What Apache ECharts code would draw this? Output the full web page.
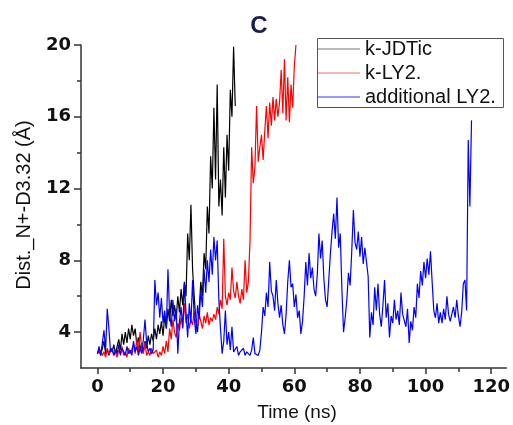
<!DOCTYPE html>
<html>
<head>
<meta charset="utf-8">
<script src="https://cdn.jsdelivr.net/npm/echarts@6/dist/echarts.min.js"></script>
<style>html,body{margin:0;padding:0;background:#fff}#c{width:513px;height:425px}</style>
</head>
<body>
<div id="c"></div>
<script>
// sampling step of the traces (ns)
const STEP = 0.5;
const seriesNames = ['k-JDTic', 'k-LY2.', 'additional LY2.'];
const xTicks = [0, 20, 40, 60, 80, 100, 120];
const xMinorTicks = [10, 30, 50, 70, 90, 110];
const yTicks = [4, 8, 12, 16, 20];
const yMinorTicks = [6, 10, 14, 18];

// k-JDTic, t = 0 .. 42 ns
const jdtic = [
  2.8, 3.0, 2.7, 3.1, 3.5, 2.8, 3.0, 2.7, 3.1, 2.9,
  3.3, 2.8, 3.2, 3.6, 3.0, 3.9, 3.3, 4.0, 3.4, 4.2,
  3.6, 4.4, 3.8, 4.2, 3.3, 3.7, 3.0, 3.4, 2.9, 3.5,
  3.1, 3.8, 3.3, 3.9, 3.5, 4.2, 3.6, 4.4, 3.9, 4.6,
  3.8, 4.9, 4.2, 5.3, 4.6, 5.8, 4.9, 5.5, 4.7, 6.0,
  5.1, 6.4, 5.5, 6.8, 6.0, 9.5, 8.0, 11.1, 7.5, 6.0,
  4.6, 4.0, 5.2, 6.8, 6.0, 8.4, 7.5, 11.0, 9.5, 13.8,
  12.0, 16.5, 12.5, 17.8, 11.0, 12.5, 10.5, 14.3, 11.5, 15.0,
  13.0, 17.5, 16.0, 19.9, 16.6
];

// k-LY2., t = 0 .. 60.5 ns
const ly2 = [
  2.8, 2.7, 3.0, 2.7, 2.9, 2.6, 3.1, 2.8, 2.7, 3.0, 2.7,
  2.9, 2.6, 3.0, 2.8, 3.2, 2.7, 2.9, 2.6, 3.1, 2.8,
  2.7, 3.3, 2.8, 3.6, 2.9, 4.0, 3.1, 2.8, 3.4, 2.7,
  2.9, 2.7, 3.1, 2.8, 2.7, 3.0, 2.6, 2.9, 2.7, 3.2,
  2.8, 3.5, 2.9, 4.2, 3.6, 4.7, 4.0, 3.7, 4.5, 4.1,
  4.8, 4.3, 5.6, 4.5, 5.0, 4.2, 4.7, 4.4, 5.2, 4.6,
  4.3, 5.0, 4.6, 4.2, 4.9, 4.5, 5.1, 4.4, 4.8, 4.6,
  5.0, 4.7, 5.4, 5.0, 5.8, 5.3, 9.2, 6.0, 5.5, 6.2,
  5.8, 7.6, 6.3, 5.9, 6.8, 6.0, 5.6, 6.4, 5.8, 8.0,
  6.2, 6.8, 9.1, 14.3, 12.3, 13.2, 16.6, 13.5, 14.3, 15.0,
  13.6, 15.2, 16.6, 14.8, 16.8, 15.5, 17.1, 15.8, 17.0, 16.0,
  16.8, 18.6, 16.2, 19.2, 15.8, 18.2, 15.7, 17.8, 16.5, 18.8,
  20.0
];

// additional LY2., t = 0 .. 114 ns
const addLy2 = [
  2.8, 3.2, 2.7, 3.4, 4.1, 3.0, 5.3, 4.2, 2.9, 3.1,
  2.7, 3.0, 2.8, 3.3, 2.7, 3.1, 2.9, 2.7, 3.2, 2.8,
  3.0, 2.7, 3.5, 2.9, 3.2, 2.7, 3.1, 2.8, 3.6, 4.7,
  3.4, 2.9, 3.1, 2.8, 3.0, 6.9, 5.5, 6.2, 4.8, 5.9,
  4.5, 5.2, 4.2, 7.5, 5.0, 4.3, 5.8, 4.6, 5.3, 2.8,
  4.6, 5.4, 4.2, 6.7, 5.1, 3.7, 5.6, 4.5, 6.9, 4.8,
  3.9, 5.5, 4.7, 6.3, 5.4, 7.5, 6.2, 8.0, 6.8, 8.6,
  7.2, 9.3, 8.0, 9.1, 5.8, 4.2, 2.8, 3.5, 5.2, 3.3,
  4.0, 3.0, 4.3, 2.9, 2.8, 3.2, 2.7, 2.9, 2.8, 3.1,
  2.7, 2.9, 2.8, 2.7, 3.0, 3.7, 2.8, 2.9, 2.7, 3.0,
  4.0, 5.4, 4.9, 6.2, 5.4, 7.9, 6.3, 6.0, 5.2, 6.9,
  5.6, 4.8, 5.5, 4.4, 3.9, 5.0, 6.8, 8.0, 6.5, 6.7,
  5.4, 6.1, 4.8, 5.2, 3.9, 4.6, 6.0, 7.9, 6.6, 8.4,
  7.0, 7.6, 6.4, 6.0, 7.2, 9.5, 8.1, 9.1, 7.0, 5.8,
  5.4, 6.9, 8.4, 9.6, 10.6, 9.2, 11.5, 8.7, 9.5, 6.4,
  4.0, 4.8, 5.8, 7.3, 6.6, 8.5, 10.8, 9.0, 8.6, 9.6,
  8.2, 9.3, 7.8, 8.7, 7.9, 7.1, 3.7, 5.1, 4.4, 6.5,
  5.2, 6.7, 5.0, 4.3, 5.5, 6.9, 4.8, 5.6, 3.7, 4.9,
  4.5, 5.8, 4.7, 5.2, 4.4, 6.2, 5.0, 4.9, 4.3, 5.3,
  3.4, 4.6, 4.1, 5.4, 4.8, 6.7, 5.9, 7.4, 6.6, 7.9,
  7.0, 8.1, 7.2, 8.5, 6.8, 5.2, 4.8, 5.6, 4.5, 5.1,
  4.5, 5.3, 4.7, 6.0, 5.0, 4.6, 4.5, 5.4, 4.8, 5.8,
  4.9, 4.3, 5.1, 6.7, 6.9, 5.2, 14.7, 11.0, 15.8
];

const colors = ['#000000', '#ff0000', '#0000ff'];
const legendColors = ['#777777', '#ff6666', '#3333ff'];
const toPairs = arr => arr.map((v, i) => [i * STEP, v]);
const allValues = [jdtic, ly2, addLy2];

const chart = echarts.init(document.getElementById('c'), null, {renderer: 'canvas'});
const axisLineStyle = {color: '#333', width: 1.5};
const labelFont = {fontFamily: 'DejaVu Sans', fontWeight: 'bold', fontSize: 18, color: '#111'};

chart.setOption({
  animation: false,
  backgroundColor: '#fff',
  grid: {left: 81, top: 45, width: 432, height: 323, containLabel: false},
  xAxis: [
    {type: 'value', min: -5, max: 124.6, position: 'bottom',
     axisLine: {show: true, onZero: false, lineStyle: axisLineStyle},
     axisTick: {show: true, inside: false, length: 6, lineStyle: axisLineStyle, customValues: xTicks},
     axisLabel: {show: true, margin: 10, customValues: xTicks, ...labelFont},
     splitLine: {show: false}},
    {type: 'value', min: -5, max: 124.6, position: 'bottom',
     axisLine: {show: false, onZero: false},
     axisTick: {show: true, inside: false, length: 4, lineStyle: axisLineStyle, customValues: xMinorTicks},
     axisLabel: {show: false}, splitLine: {show: false}}
  ],
  yAxis: [
    {type: 'value', min: 2, max: 20, position: 'left',
     axisLine: {show: true, onZero: false, lineStyle: axisLineStyle},
     axisTick: {show: true, inside: false, length: 7, lineStyle: axisLineStyle, customValues: yTicks},
     axisLabel: {show: true, margin: 10, customValues: yTicks, ...labelFont},
     splitLine: {show: false}},
    {type: 'value', min: 2, max: 20, position: 'left',
     axisLine: {show: false, onZero: false},
     axisTick: {show: true, inside: false, length: 4, lineStyle: axisLineStyle, customValues: yMinorTicks},
     axisLabel: {show: false}, splitLine: {show: false}}
  ],
  legend: {
    orient: 'vertical', left: 318, top: 39, padding: 0,
    itemWidth: 42, itemHeight: 1, itemGap: 4, icon: 'rect',
    data: seriesNames.map((n, k) => ({name: n, itemStyle: {color: legendColors[k]}})),
    textStyle: {fontFamily: 'Liberation Sans', fontSize: 20, color: '#111', lineHeight: 20}
  },
  series: seriesNames.map((name, k) => ({
    name: name, type: 'line', xAxisIndex: 0, yAxisIndex: 0,
    data: toPairs(allValues[k]),
    symbol: 'none', showSymbol: false,
    lineStyle: {color: colors[k], width: 1.2},
    itemStyle: {color: colors[k]}
  })),
  graphic: [
    {type: 'rect', shape: {x: 317.5, y: 38.5, width: 186, height: 69},
     style: {fill: 'none', stroke: '#555', lineWidth: 1}, z: 100},
    {type: 'text', x: 259, y: 26,
     style: {text: 'C', fill: '#1c1c55', font: 'bold 24px "Liberation Sans"', align: 'center', verticalAlign: 'middle'}},
    {type: 'text', x: 297, y: 413,
     style: {text: 'Time (ns)', fill: '#111', font: '19px "Liberation Sans"', align: 'center', verticalAlign: 'middle'}},
    {type: 'text', x: 24, y: 205, rotation: Math.PI / 2,
     style: {text: 'Dist._N+-D3.32 (Å)', fill: '#111', font: '20px "Liberation Sans"', align: 'center', verticalAlign: 'middle'}}
  ]
});
</script>
</body>
</html>
